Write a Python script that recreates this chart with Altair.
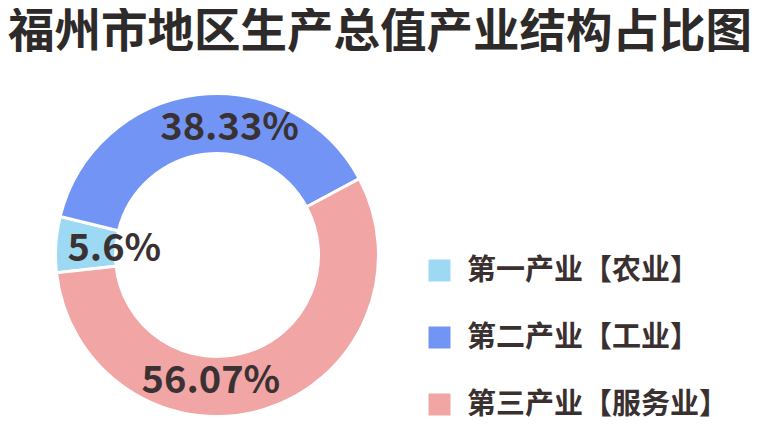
import altair as alt
import pandas as pd
import math

categories = ["第一产业【农业】", "第二产业【工业】", "第三产业【服务业】"]
shares = [5.6, 38.33, 56.07]
labels = ["5.6%", "38.33%", "56.07%"]
draw_order = [1, 2, 0]
colors = ["#9dd9f3", "#7294f5", "#f2a5a5"]
label_dx = [28, 29, -45]
label_dy = [4, 4, 2]

df = pd.DataFrame({"cat": categories, "share": shares, "label": labels, "ord": draw_order})

start = math.radians(61.8)

theta = alt.Theta("share:Q", stack=True, scale=alt.Scale(range=[start, start + 2 * math.pi]))
color = alt.Color(
    "cat:N",
    scale=alt.Scale(domain=categories, range=colors),
    legend=alt.Legend(
        title=None,
        orient="none",
        legendX=417,
        legendY=198,
        symbolType="square",
        symbolSize=484,
        symbolStrokeWidth=0,
        labelFontSize=29,
        labelFont="Noto Sans CJK SC",
        labelFontWeight="bold",
        labelColor="#3a3030",
        labelOffset=13,
        labelLimit=400,
        rowPadding=37,
    ),
)

cx, cy = 209, 197

base = alt.Chart(df)

arcs = base.mark_arc(
    innerRadius=101.5, radius=161.5, stroke="white", strokeWidth=3
).encode(
    theta=theta,
    color=color,
    order=alt.Order("ord:Q"),
    x=alt.value(cx),
    y=alt.value(cy),
)

layers = [arcs]
for lab, ddx, ddy in zip(labels, label_dx, label_dy):
    layers.append(
        base.mark_text(
            radius=131,
            dx=ddx,
            dy=ddy,
            font="Noto Sans CJK SC",
            fontWeight="bold",
            fontSize=38,
            color="#3a3232",
        ).encode(
            theta=theta,
            text=alt.condition(alt.datum.label == lab, "label:N", alt.value("")),
            order=alt.Order("ord:Q"),
            x=alt.value(cx),
            y=alt.value(cy),
        )
    )

chart = alt.layer(*layers).properties(
    width=751,
    height=362,
    autosize=alt.AutoSizeParams(type="none"),
    padding={"left": 0, "right": 0, "top": 50, "bottom": 0},
    title=alt.TitleParams(
        "福州市地区生产总值产业结构占比图",
        anchor="start",
        font="Noto Sans CJK SC",
        fontSize=46.5,
        fontWeight="bold",
        color="#2f2a2a",
        offset=4,
        dx=0,
        dy=2,
    ),
).configure_view(stroke=None)

chart.save("out.html", embed_options={"renderer": "svg", "actions": False})
